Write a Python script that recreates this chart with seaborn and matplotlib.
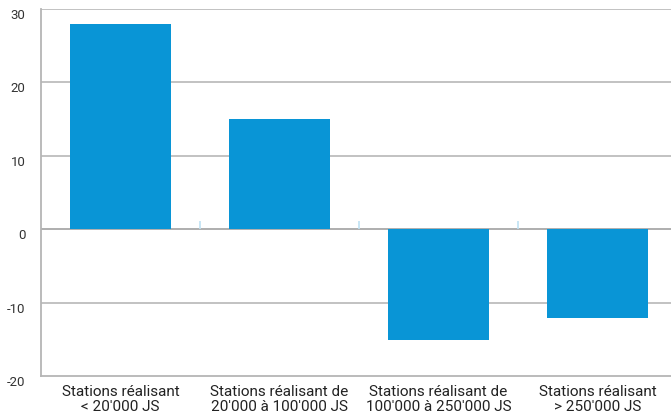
import numpy as np
import pandas as pd
import matplotlib
matplotlib.use("Agg")
import matplotlib.pyplot as plt
import seaborn as sns

# data
categories = [
    "Stations réalisant\n< 20'000 JS",
    "Stations réalisant de\n20'000 à 100'000 JS",
    "Stations réalisant de\n100'000 à 250'000 JS",
    "Stations réalisant\n> 250'000 JS",
]
values = [28, 15, -15, -12]
y_ticks = [-20, -10, 0, 10, 20, 30]

BAR_COLOR = "#0995d6"
GRID_COLOR = "#bdbdbd"

sns.set_style("white")
plt.rcParams["font.family"] = ["Roboto", "DejaVu Sans"]

df = pd.DataFrame({"cat": categories, "val": values})

fig = plt.figure(figsize=(6.71, 4.2), dpi=100)
ax = fig.add_axes([41 / 671, 1 - 376.3 / 420, 1 - 41 / 671, (376.3 - 9) / 420])

sns.barplot(data=df, x="cat", y="val", color=BAR_COLOR, width=0.64,
            saturation=1, linewidth=0, edgecolor="none", ax=ax, zorder=3)

# grid lines
for t in y_ticks:
    if t == -20:
        continue
    ax.axhline(t, color="#a8a8a8" if t == 0 else GRID_COLOR,
               lw=1.3, zorder=2)

# faint category separators just above the zero line
for b in np.arange(len(categories) - 1) + 0.5:
    ax.vlines(b, 0, 1.2, color="#bfe2f4", lw=1.2, zorder=2)

ax.set_ylim(-20, 30)
ax.set_xlim(-0.5, len(categories) - 0.5 - 6 / 159)
ax.set_yticks(y_ticks)
ax.set_yticklabels([str(t) for t in y_ticks], fontsize=9.5, color="#333333")
plt.setp(ax.get_yticklabels(), va="top")

ax.set_xticks(range(len(categories)))
ax.set_xticklabels(categories, fontsize=11, color="#222222",
                   linespacing=1.1)
ax.tick_params(axis="y", length=0, pad=11)
ax.tick_params(axis="x", length=0, pad=6)
ax.set_xlabel("")
ax.set_ylabel("")

for side in ["top", "right"]:
    ax.spines[side].set_visible(False)
for side in ["left", "bottom"]:
    ax.spines[side].set_color("#b5b5b5")
    ax.spines[side].set_linewidth(1.3)

fig.savefig("out.png", dpi=100)
